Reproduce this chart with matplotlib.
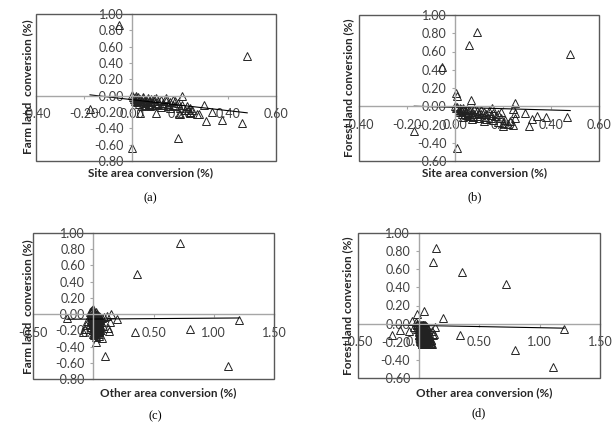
import matplotlib.pyplot as plt
from matplotlib.patches import Rectangle
import numpy as np

# (a) site area vs farm land conversion
a_x = [-0.055, 0.48, 0.0, 0.19, -0.175, 0.46, 0.375, 0.31, 0.335, 0.30, 0.28, 0.27,
       0.24, 0.235, 0.21, 0.20, 0.10, 0.035, 0.195, 0.24,
       0.0, 0.005, 0.01, 0.012, 0.015, 0.02, 0.02, 0.025, 0.03, 0.03, 0.035, 0.04,
       0.04, 0.045, 0.05, 0.05, 0.055, 0.06, 0.06, 0.065, 0.07, 0.07, 0.075, 0.08,
       0.08, 0.085, 0.09, 0.095, 0.10, 0.10, 0.11, 0.11, 0.12, 0.12, 0.13, 0.13,
       0.14, 0.15, 0.15, 0.16, 0.16, 0.17, 0.17, 0.18, 0.18, 0.19, 0.20, 0.21,
       0.22, 0.23, 0.24, 0.25, 0.015, 0.045, 0.09, 0.14]
a_y = [0.86, 0.49, -0.64, -0.52, -0.16, -0.34, -0.30, -0.31, -0.20, -0.11, -0.22, -0.22,
       -0.20, -0.17, 0.0, -0.22, -0.21, -0.21, -0.22, -0.21,
       0.01, -0.02, -0.04, -0.06, -0.03, -0.05, -0.08, -0.02, -0.06, -0.10, -0.04, -0.07,
       -0.13, -0.03, -0.06, -0.09, -0.12, -0.05, -0.08, -0.03, -0.10, -0.06, -0.13, -0.04,
       -0.08, -0.11, -0.06, -0.09, -0.03, -0.12, -0.07, -0.10, -0.05, -0.14, -0.09, -0.12,
       -0.06, -0.10, -0.13, -0.08, -0.15, -0.05, -0.11, -0.13, -0.06, -0.09, -0.15, -0.11,
       -0.17, -0.13, -0.15, -0.18, -0.01, -0.02, -0.04, -0.03]
a_fit = (-0.336, -0.049)

# (b) site area vs forest land conversion
b_x = [-0.053, 0.06, 0.09, 0.48, 0.003, 0.01, -0.17, 0.007, 0.25, 0.065, 0.465, 0.38,
       0.34, 0.32, 0.31, 0.29, 0.20, 0.25, 0.25, 0.24,
       0.0, 0.005, 0.01, 0.015, 0.02, 0.02, 0.025, 0.03, 0.03, 0.035, 0.04, 0.04,
       0.045, 0.05, 0.05, 0.055, 0.06, 0.06, 0.07, 0.07, 0.075, 0.08, 0.08, 0.09,
       0.09, 0.10, 0.10, 0.11, 0.11, 0.12, 0.12, 0.13, 0.13, 0.14, 0.15, 0.15,
       0.16, 0.16, 0.17, 0.18, 0.18, 0.19, 0.19, 0.20, 0.21, 0.22, 0.23, 0.24,
       0.035, 0.07, 0.12, 0.155]
b_y = [0.43, 0.67, 0.81, 0.57, 0.14, 0.11, -0.27, -0.46, 0.04, 0.07, -0.12, -0.12,
       -0.11, -0.14, -0.22, -0.07, -0.22, -0.07, -0.13, -0.03,
       0.0, -0.02, -0.01, -0.04, -0.02, -0.06, -0.03, -0.05, -0.08, -0.02, -0.04, -0.09,
       -0.06, -0.03, -0.10, -0.07, -0.04, -0.11, -0.06, -0.09, -0.12, -0.03, -0.08, -0.05,
       -0.11, -0.07, -0.13, -0.04, -0.09, -0.06, -0.12, -0.08, -0.14, -0.05, -0.10, -0.13,
       -0.07, -0.15, -0.11, -0.09, -0.17, -0.06, -0.13, -0.18, -0.15, -0.19, -0.16, -0.20,
       -0.12, -0.14, -0.16, -0.02]
b_fit = (-0.073, -0.012)

# (c) other area vs farm land conversion
c_x = [0.72, 0.36, 1.21, 1.115, 0.80, 0.35, 0.10, -0.22, 0.20, 0.15, -0.085, -0.07,
       -0.06, -0.05, 0.02, 0.07, 0.05, 0.13, 0.12, 0.14,
       -0.02, -0.015, -0.01, -0.01, -0.005, 0.0, 0.0, 0.0, 0.005, 0.005, 0.01, 0.01,
       0.01, 0.015, 0.015, 0.02, 0.02, 0.02, 0.025, 0.025, 0.03, 0.03, 0.03, 0.035,
       0.035, 0.04, 0.04, 0.045, 0.045, 0.05, 0.05, 0.055, 0.06, 0.06, 0.065, 0.07,
       -0.005, 0.0, 0.01, 0.02, 0.03, 0.04, 0.015, 0.025, 0.035, 0.008, 0.012, 0.028,
       0.09, 0.08, -0.03, 0.11]
c_y = [0.88, 0.50, -0.07, -0.64, -0.18, -0.22, -0.52, -0.05, -0.06, 0.0, -0.22, -0.18,
       -0.13, -0.08, -0.34, -0.30, -0.27, -0.21, -0.17, -0.10,
       -0.02, 0.01, -0.05, -0.10, 0.0, -0.03, -0.08, -0.14, -0.01, -0.06, -0.02, -0.11,
       -0.17, -0.04, -0.08, -0.01, -0.12, -0.20, -0.05, -0.15, -0.03, -0.09, -0.22, -0.06,
       -0.13, -0.04, -0.18, -0.08, -0.25, -0.11, -0.02, -0.15, -0.07, -0.20, -0.10, -0.05,
       -0.19, -0.24, -0.26, -0.28, -0.16, -0.12, -0.22, -0.10, -0.02, -0.13, -0.19, -0.07,
       -0.04, -0.15, -0.12, -0.02]
# dense black cluster near the origin
c_x2 = [-0.025, -0.02, -0.015, -0.01, -0.005, 0.0, 0.005, 0.01, 0.015, 0.02, 0.025, 0.03,
        0.035, 0.04, 0.045, 0.05, 0.055, 0.06,
        -0.02, -0.01, 0.0, 0.01, 0.02, 0.03, 0.04, 0.05, 0.06,
        -0.015, -0.005, 0.005, 0.015, 0.025, 0.035, 0.045, 0.055,
        -0.01, 0.0, 0.01, 0.02, 0.03, 0.04, 0.05,
        0.0, 0.01, 0.02, 0.03, 0.04]
c_y2 = [0.02, -0.04, 0.04, -0.07, 0.01, -0.02, -0.05, 0.03, -0.09, -0.03, -0.12, 0.0,
        -0.14, -0.06, -0.17, -0.09, -0.19, -0.13,
        -0.09, -0.13, -0.11, -0.15, -0.18, -0.07, -0.10, -0.21, -0.16,
        -0.16, -0.19, -0.17, -0.21, -0.23, -0.20, -0.22, -0.03,
        0.05, 0.06, -0.01, 0.02, -0.04, -0.02, -0.06,
        -0.20, -0.23, -0.08, -0.12, -0.15]
c_fit = (0.011, -0.061)

# (d) other area vs forest land conversion
d_x = [0.145, 0.12, 0.36, 0.72, 1.205, 1.11, 0.80, 0.345, 0.20, 0.14, 0.13, 0.10,
       0.045, -0.01, -0.05, -0.22, -0.15, -0.08, -0.04, 0.025,
       -0.01, 0.0, 0.0, 0.005, 0.005, 0.01, 0.01, 0.015, 0.015, 0.02, 0.02, 0.02,
       0.025, 0.025, 0.03, 0.03, 0.03, 0.035, 0.035, 0.04, 0.04, 0.045, 0.045, 0.05,
       0.05, 0.055, 0.06, 0.06, 0.065, 0.07, 0.075, 0.08, 0.09, 0.10, 0.11, 0.12,
       0.0, 0.01, 0.02, 0.03, 0.04, 0.05, 0.06, 0.015, 0.035, 0.055, 0.07, 0.085]
d_y = [0.83, 0.68, 0.57, 0.44, -0.056, -0.48, -0.29, -0.13, 0.06, -0.04, -0.11, -0.23,
       0.14, 0.11, 0.03, -0.13, -0.07, -0.08, -0.04, -0.23,
       -0.02, 0.0, -0.05, -0.08, -0.02, -0.04, -0.11, -0.06, -0.14, -0.01, -0.09, -0.17,
       -0.03, -0.12, -0.06, -0.15, -0.20, -0.04, -0.10, -0.07, -0.13, -0.02, -0.16, -0.08,
       -0.19, -0.05, -0.11, -0.14, -0.09, -0.17, -0.06, -0.12, -0.15, -0.18, -0.08, -0.13,
       -0.13, -0.16, -0.20, -0.22, -0.18, -0.21, -0.03, -0.19, -0.01, -0.02, -0.04, -0.10]
d_x2 = [-0.02, -0.015, -0.01, -0.005, 0.0, 0.005, 0.01, 0.015, 0.02, 0.025, 0.03, 0.035,
        0.04, 0.045, 0.05, 0.055, 0.06, 0.065,
        -0.01, 0.0, 0.01, 0.02, 0.03, 0.04, 0.05, 0.06, 0.07,
        0.075, 0.08, 0.085, 0.09, 0.095, 0.10, 0.105, 0.11,
        0.0, 0.01, 0.02, 0.03, 0.04, 0.05, 0.06,
        0.025, 0.045, 0.065, 0.085, 0.035]
d_y2 = [0.02, -0.01, 0.0, -0.04, -0.02, -0.06, -0.03, -0.08, -0.05, -0.10, -0.07, -0.12,
        -0.09, -0.14, -0.11, -0.16, -0.13, -0.18,
        -0.06, -0.09, -0.12, -0.15, -0.18, -0.02, -0.05, -0.08, -0.10,
        -0.14, -0.17, -0.20, -0.16, -0.19, -0.21, -0.18, -0.22,
        -0.13, -0.16, -0.19, -0.21, -0.20, -0.22, -0.20,
        -0.01, -0.03, -0.06, -0.12, -0.15]
d_fit = (-0.025, -0.02)

panels = [
    dict(x=a_x, y=a_y, fit=a_fit, xlim=(-0.4, 0.6), ylim=(-0.8, 1.0), xstep=0.2,
         box=(36, 14, 276, 161), xlabel='Site area conversion (%)', xl=(150, 173),
         ylabel='Farm land  conversion (%)', yl=(28, 87), cap='(a)', cp=(150, 198)),
    dict(x=b_x, y=b_y, fit=b_fit, xlim=(-0.4, 0.6), ylim=(-0.6, 1.0), xstep=0.2,
         box=(359, 15, 599, 161), xlabel='Site area conversion (%)', xl=(484, 173),
         ylabel='Forest land conversion (%)', yl=(349, 88), cap='(b)', cp=(475, 197)),
    dict(x=c_x + c_x2, y=c_y + c_y2, fit=c_fit, xlim=(-0.5, 1.5), ylim=(-0.8, 1.0), xstep=0.5,
         box=(33, 233, 274, 379), xlabel='Other area conversion (%)', xl=(168, 393),
         ylabel='Farm land  conversion (%)', yl=(28, 307), cap='(c)', cp=(155, 416)),
    dict(x=d_x + d_x2, y=d_y + d_y2, fit=d_fit, xlim=(-0.5, 1.5), ylim=(-0.6, 1.0), xstep=0.5,
         box=(358, 233, 600, 378), xlabel='Other area conversion (%)', xl=(484, 393),
         ylabel='Forest land conversion (%)', yl=(348, 306), cap='(d)', cp=(479, 413)),
]

W, H = 612, 424
fig = plt.figure(figsize=(W / 100, H / 100), dpi=100)
fig.patch.set_facecolor('white')

for p in panels:
    x0, y0, x1, y1 = p['box']
    ax = fig.add_axes([x0 / W, 1 - y1 / H, (x1 - x0) / W, (y1 - y0) / H])
    ax.plot(p['x'], p['y'], linestyle='none', marker='^', markersize=6,
            markerfacecolor='none', markeredgecolor='#222222', markeredgewidth=0.7)
    slope, icpt = p['fit']
    fx = np.array([min(p['x']), max(p['x'])])
    ax.plot(fx, slope * fx + icpt, color='black', lw=0.8)

    ax.set_xlim(*p['xlim'])
    ax.set_ylim(*p['ylim'])
    ax.set_xticks(np.arange(p['xlim'][0], p['xlim'][1] + 1e-9, p['xstep']))
    ax.set_yticks(np.arange(p['ylim'][0], p['ylim'][1] + 1e-9, 0.2))
    ax.xaxis.set_major_formatter(plt.FormatStrFormatter('%.2f'))
    ax.yaxis.set_major_formatter(plt.FormatStrFormatter('%.2f'))

    # axes cross at zero, Excel style
    ax.spines['left'].set_position(('data', 0))
    ax.spines['bottom'].set_position(('data', 0))
    for s in ('left', 'bottom'):
        ax.spines[s].set_color('#a6a6a6')
        ax.spines[s].set_linewidth(1.0)
    ax.spines['top'].set_visible(False)
    ax.spines['right'].set_visible(False)
    ax.tick_params(direction='out', length=2.5, width=0.8, color='#a6a6a6',
                   labelsize=9, labelcolor='#404040')
    ax.tick_params(axis='x', pad=6.5)
    ax.tick_params(axis='y', pad=3.5)
    for lab in ax.get_xticklabels() + ax.get_yticklabels():
        lab.set_family('Lato')
    ax.add_patch(Rectangle((0, 0), 1, 1, transform=ax.transAxes, fill=False,
                           edgecolor='#595959', lw=1.0, clip_on=False, zorder=5))

    fig.text(p['xl'][0] / W, 1 - p['xl'][1] / H, p['xlabel'], ha='center', va='center',
             fontsize=8.5, fontweight='bold', family='Lato', color='#262626')
    fig.text(p['yl'][0] / W, 1 - p['yl'][1] / H, p['ylabel'], ha='center', va='center',
             rotation=90, fontsize=8.5, fontweight='bold', family='Lato', color='#262626')
    fig.text(p['cp'][0] / W, 1 - p['cp'][1] / H, p['cap'], ha='center', va='center',
             fontsize=9, family='Liberation Serif', color='black')

fig.savefig('out.png', dpi=100)
